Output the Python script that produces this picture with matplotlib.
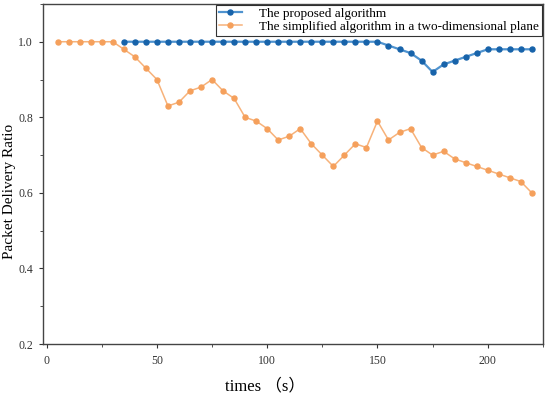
import matplotlib
matplotlib.use("Agg")
import matplotlib.pyplot as plt
from matplotlib.ticker import MultipleLocator

# data
t_orange = list(range(5, 225, 5))
pdr_orange = [1.0, 1.0, 1.0, 1.0, 1.0, 1.0,
              0.98, 0.96, 0.93, 0.90, 0.83, 0.84, 0.87, 0.88, 0.90, 0.87,
              0.85, 0.80, 0.79, 0.77, 0.74, 0.75, 0.77, 0.73, 0.70, 0.67,
              0.70, 0.73, 0.72, 0.79, 0.74, 0.76, 0.77, 0.72, 0.70, 0.71,
              0.69, 0.68, 0.67, 0.66, 0.65, 0.64, 0.63, 0.60]
t_blue = list(range(35, 225, 5))
pdr_blue = [1.0] * 24 + [0.99, 0.98, 0.97, 0.95, 0.92, 0.94, 0.95, 0.96,
                         0.97, 0.98, 0.98, 0.98, 0.98, 0.98]

labels = ["The proposed algorithm",
          "The simplified algorithm in a two-dimensional plane"]

serif = ["Liberation Serif", "Noto Sans CJK SC", "DejaVu Serif"]
plt.rcParams['font.family'] = serif

fig = plt.figure(figsize=(5.5, 3.95), dpi=100)
ax = fig.add_axes([0.078, 0.129, 0.909, 0.861])

ax.plot(t_blue, pdr_blue, color='#4f93cf', linewidth=1.6, marker='o',
        markersize=3.6, markerfacecolor='#1763aa', markeredgecolor='#1763aa',
        label=labels[0], zorder=3)
ax.plot(t_orange, pdr_orange, color='#f7b27a', linewidth=1.1, marker='o',
        markersize=3.6, markerfacecolor='#f5a05c', markeredgecolor='#f5a05c',
        label=labels[1], zorder=2)

ax.set_xlim(-1.7, 225)
ax.set_ylim(0.2, 1.1)
ax.xaxis.set_major_locator(MultipleLocator(50))
ax.xaxis.set_minor_locator(MultipleLocator(25))
ax.yaxis.set_major_locator(MultipleLocator(0.2))
ax.yaxis.set_minor_locator(MultipleLocator(0.1))
ax.tick_params(which='major', direction='out', length=3, width=0.8,
               labelsize=8.5, colors='#333333')
ax.tick_params(axis='x', which='major', pad=5)
ax.tick_params(axis='y', which='major', pad=4)
ax.tick_params(which='minor', direction='out', length=2, width=0.6,
               colors='#333333')
for sp in ax.spines.values():
    sp.set_linewidth(1.0)
    sp.set_color('#444444')

ax.set_xlabel("times （s）", fontsize=12, va='center')
ax.xaxis.set_label_coords(0.445, -0.1235)
ax.set_ylabel("Packet Delivery Ratio", fontsize=11, va='center')
ax.yaxis.set_label_coords(-0.067, 0.45)

leg = ax.legend(loc='upper right', fontsize=9.5, frameon=True, fancybox=False,
                edgecolor='black', borderpad=0.22, labelspacing=0.05,
                handlelength=1.8, handletextpad=1.3, borderaxespad=0.05)
leg.get_frame().set_linewidth(0.8)

fig.savefig("out.png", dpi=100)
